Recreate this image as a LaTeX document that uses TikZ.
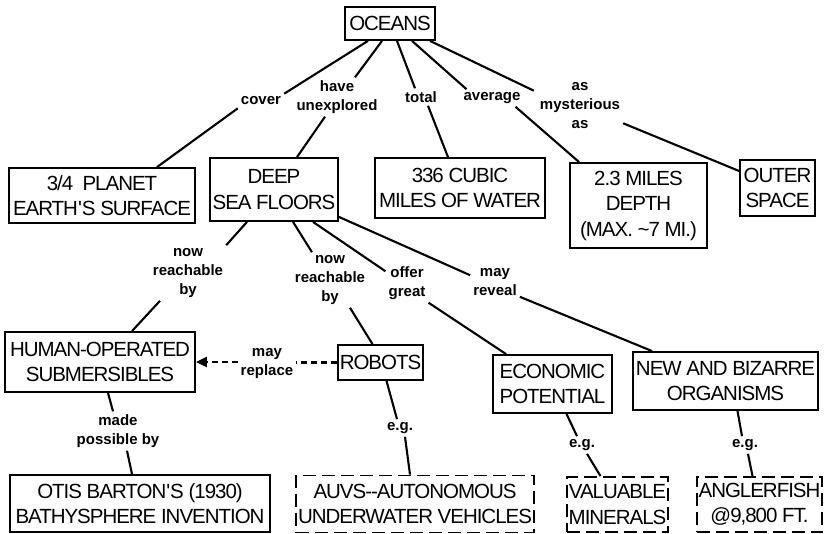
\documentclass[tikz,border=0pt]{standalone}
\usepackage{fontspec}
\setmainfont{Liberation Sans}
\newfontfamily\boxfont[LetterSpace=-5]{Liberation Sans}
\usetikzlibrary{arrows.meta}
\tikzset{
  box/.style={draw, line width=1.8pt, align=center, inner sep=2pt,
    font=\boxfont\fontsize{20.5}{25.5}\selectfont},
  dbox/.style={box, dash pattern=on 13pt off 6pt},
  lbl/.style={align=center, inner sep=3pt,
    font=\fontsize{15}{19}\selectfont\bfseries},
  link/.style={line width=2.1pt},
  maylink/.style={line width=2.1pt, dash pattern=on 6pt off 4pt},
}
\begin{document}
\begin{tikzpicture}[x=1pt,y=-1pt]
\useasboundingbox[fill=white] (0,0) rectangle (824,534);

% concepts
\node[box, minimum width=90, minimum height=33] (oceans) at (390,23.5) {OCEANS};
\node[box, minimum width=186, minimum height=55] (planet) at (102,195.5) {3/4\ \ PLANET\\EARTH\textquotesingle S SURFACE};
\node[box, minimum width=128, minimum height=63] (deep) at (274,189.5) {DEEP\\SEA FLOORS};
\node[box, minimum width=170, minimum height=60] (cubic) at (460,188) {336 CUBIC\\MILES OF WATER};
\node[box, minimum width=137, minimum height=85] (depth) at (638.5,205.5) {2.3 MILES\\DEPTH\\(MAX. \textasciitilde 7 MI.)};
\node[box, minimum width=75, minimum height=56] (outer) at (777.5,188) {OUTER\\SPACE};
\node[box, minimum width=190, minimum height=60] (human) at (100,362) {HUMAN-OPERATED\\SUBMERSIBLES};
\node[box, minimum width=85, minimum height=35] (robots) at (380.5,362.5) {ROBOTS};
\node[box, minimum width=119, minimum height=58] (econ) at (552.5,384) {ECONOMIC\\POTENTIAL};
\node[box, minimum width=185, minimum height=58] (newb) at (725.5,381) {NEW AND BIZARRE\\ORGANISMS};
\node[box, minimum width=260, minimum height=57] (otis) at (140,503.5) {OTIS BARTON\textquotesingle S (1930)\\BATHYSPHERE INVENTION};
\node[dbox, minimum width=236, minimum height=57] (auvs) at (415,504) {AUVS--AUTONOMOUS\\UNDERWATER VEHICLES};
\node[dbox, minimum width=101, minimum height=55] (valuable) at (617.5,504.5) {VALUABLE\\MINERALS};
\node[dbox, minimum width=123, minimum height=55] (angler) at (759.5,504.5) {ANGLERFISH\\@9,800 FT.};

% linking phrases
\node[lbl] (cover) at (261,101) {cover};
\node[lbl] (haveun) at (337,97) {have\\unexplored};
\node[lbl] (total) at (421,97) {total};
\node[lbl] (average) at (492,98) {average};
\node[lbl] (asmyst) at (580,106) {as\\mysterious\\as};
\node[lbl] (reach1) at (188,273) {now\\reachable\\by};
\node[lbl] (reach2) at (330,280) {now\\reachable\\by};
\node[lbl] (offer) at (407,283) {offer\\great};
\node[lbl] (reveal) at (495,282) {may\\reveal};
\node[lbl] (replace) at (267,364) {may\\replace};
\node[lbl] (made) at (118,431) {made\\possible by};
\node[lbl] (eg1) at (400,428) {e.g.};
\node[lbl] (eg2) at (582,445) {e.g.};
\node[lbl] (eg3) at (745,445) {e.g.};

% connectors from OCEANS
\draw[link] ([xshift=-22]oceans.south) -- (cover.north east);
\draw[link] (cover.south west) -- ([xshift=55]planet.north);
\draw[link] ([xshift=-8]oceans.south) -- ([xshift=18]haveun.north);
\draw[link] ([xshift=-12]haveun.south) -- ([xshift=23]deep.north);
\draw[link] ([xshift=7]oceans.south) -- ([xshift=-6]total.north);
\draw[link] ([xshift=7]total.south) -- ([xshift=-12]cubic.north);
\draw[link] ([xshift=22]oceans.south) -- ([xshift=6]average.north west);
\draw[link] ([xshift=-8]average.south east) -- ([xshift=10]depth.north west);
\draw[link] ([xshift=40]oceans.south) -- ([xshift=-3,yshift=-11]asmyst.north west);
\draw[link] ([yshift=9]asmyst.south east) -- ([yshift=17]outer.west);

% connectors from DEEP SEA FLOORS
\draw[link] ([xshift=-27]deep.south) -- (reach1.north east);
\draw[link] ([xshift=-28]reach1.south) -- ([xshift=32]human.north);
\draw[link] ([xshift=19]deep.south) -- ([xshift=-18]reach2.north);
\draw[link] ([xshift=20]reach2.south) -- ([xshift=-8]robots.north);
\draw[link] ([xshift=39]deep.south) -- ([yshift=-8]offer.north west);
\draw[link] (offer.south east) -- ([xshift=14]econ.north west);
\draw[link] ([yshift=5]deep.south east) -- ([yshift=-10]reveal.north west);
\draw[link] ([yshift=2]reveal.south east) -- ([xshift=20]newb.north west);

% robots may replace submersibles
\draw[maylink] (robots.west) -- (robots.west -| replace.east);
\draw[maylink, -{Triangle[length=11pt,width=10pt]}] (replace.west |- human.east) -- (human.east);

% lower links
\draw[link] ([xshift=8]human.south) -- ([xshift=-5]made.north);
\draw[link] ([xshift=9]made.south) -- ([xshift=-8]otis.north);
\draw[link] ([xshift=6]robots.south) -- ([xshift=-3]eg1.north);
\draw[link] ([xshift=5]eg1.south) -- ([xshift=-5]auvs.north);
\draw[link] ([xshift=14]econ.south) -- ([xshift=-5]eg2.north);
\draw[link] ([xshift=5]eg2.south) -- ([xshift=-17]valuable.north);
\draw[link] ([xshift=12]newb.south) -- ([xshift=-3]eg3.north);
\draw[link] ([xshift=3]eg3.south) -- ([xshift=-7]angler.north);
\end{tikzpicture}
\end{document}
